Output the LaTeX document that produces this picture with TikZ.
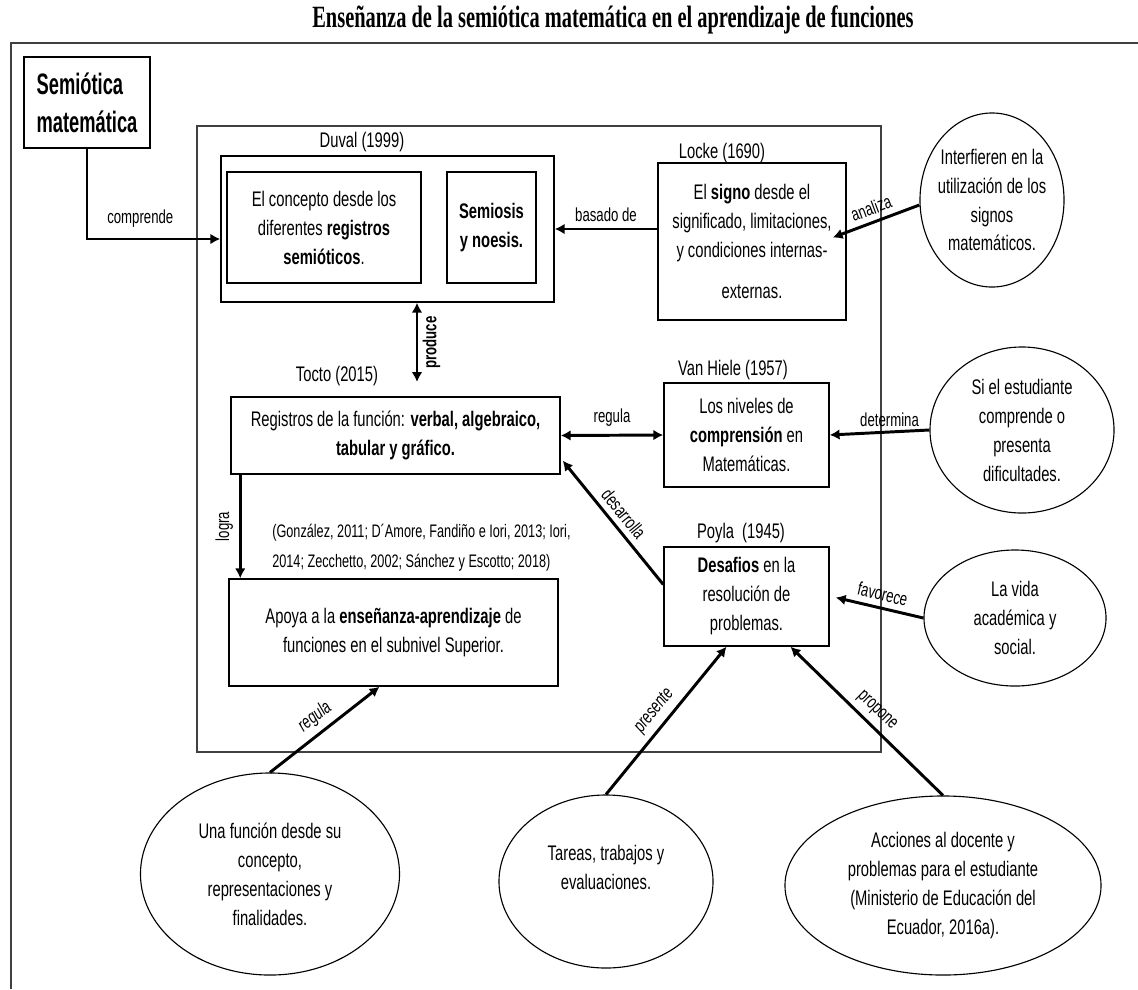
\documentclass[tikz,border=0pt]{standalone}
\usepackage{fontspec}
\setmainfont{Liberation Sans}[FakeStretch=0.7]
\newfontfamily\titlefont{Liberation Serif}[FakeStretch=0.66]
\newfontfamily\headfont{Liberation Sans}[FakeStretch=0.62]
\usetikzlibrary{arrows.meta,shapes.geometric,calc}
\definecolor{framegray}{HTML}{404040}
\tikzset{
  box/.style={draw, line width=1pt, align=center, inner sep=0pt, font=\fontsize{15}{20.6}\selectfont},
  oval/.style={draw, ellipse, line width=0.8pt, inner sep=0pt},
  txt/.style={align=center, inner sep=0pt, font=\fontsize{15}{20.6}\selectfont},
  lbl/.style={inner sep=1pt, font=\fontsize{13.4}{15}\selectfont},
  ilbl/.style={inner sep=1pt, font=\fontsize{13.4}{15}\selectfont\itshape},
  arr/.style={line width=2.1pt},
  >={Latex[length=7pt,width=7.5pt]}
}

\begin{document}
\begin{tikzpicture}[x=0.025cm, y=-0.025cm]
\useasboundingbox (0,0) rectangle (1138,989);
\node[font=\titlefont\bfseries\fontsize{22}{24}\selectfont] (title) at (613,20) {Enseñanza de la semiótica matemática en el aprendizaje de funciones};
\draw[framegray, line width=0.9pt] (10,43) -- (1138,43);
\draw[framegray, line width=0.9pt] (11,43) -- (11,989);
\draw[framegray, line width=0.8pt] (197,126) rectangle (881,752);

\node[box, minimum width=3.15cm, minimum height=2.275cm, align=left, font=\headfont\bfseries\fontsize{21}{27}\selectfont] (sem) at (87,102.5) {Semiótica\\matemática};

\node[box, minimum width=8.325cm, minimum height=3.65cm] (duval) at (387.5,229) {};
\node[box, minimum width=4.85cm, minimum height=2.775cm] (concept) at (324,227.5) {El concepto desde los\\diferentes \textbf{registros}\\\textbf{semióticos}.};
\node[box, minimum width=2.225cm, minimum height=2.775cm] (semiosis) at (491.5,227.5) {\textbf{Semiosis}\\\textbf{y noesis.}};
\node[txt] (duvallbl) at (362,142) {Duval (1999)};

\node[box, minimum width=4.7cm, minimum height=3.925cm] (locke) at (752,241.5) {El \textbf{signo} desde el\\significado, limitaciones,\\y condiciones internas-\\[0.3cm]externas.};
\node[txt] (lockelbl) at (722,153) {Locke (1690)};

\node[oval, minimum width=3.6cm, minimum height=4.35cm] (e1) at (992,200) {};
\node[txt] (t1) at (e1) {Interfieren en la\\utilización de los\\signos\\matemáticos.};

\node[box, minimum width=8.225cm, minimum height=1.925cm] (reg) at (395.5,435.5) {Registros de la función: \textbf{verbal, algebraico,}\\\textbf{tabular y gráfico.}};
\node[txt] (toctolbl) at (337,376) {Tocto (2015)};

\node[box, minimum width=4.125cm, minimum height=2.6cm] (vh) at (746.5,435) {Los niveles de\\\textbf{comprensión} en\\Matemáticas.};
\node[txt] (vhlbl) at (733,370) {Van Hiele (1957)};

\node[oval, minimum width=4.6cm, minimum height=4.15cm] (e2) at (1022,430) {};
\node[txt] (t2) at (e2) {Si el estudiante\\comprende o\\presenta\\dificultades.};

\node[box, minimum width=4.125cm, minimum height=2.475cm] (poyla) at (746.5,596.5) {\textbf{Desafios} en la\\resolución de\\problemas.};
\node[txt] (poylalbl) at (741,533) {Poyla\ \ (1945)};

\node[oval, minimum width=4.55cm, minimum height=3.4cm] (e3) at (1015,618) {};
\node[txt] (t3) at (e3) {La vida\\académica y\\social.};

\node[box, minimum width=8.225cm, minimum height=2.675cm] (apoya) at (393.5,632.5) {Apoya a la \textbf{enseñanza-aprendizaje} de\\funciones en el subnivel Superior.};
\node[anchor=west, align=left, inner sep=0pt, font=\fontsize{12.9}{21.3}\selectfont] (cite) at (272,548) {(González, 2011; D´Amore, Fandiño e Iori, 2013; Iori,\\2014; Zecchetto, 2002; Sánchez y Escotto; 2018)};

\node[oval, minimum width=6.475cm, minimum height=5.05cm] (e4) at (270,874) {};
\node[txt] (t4) at (e4) {Una función desde su\\concepto,\\representaciones y\\finalidades.};
\node[oval, minimum width=5.35cm, minimum height=4.325cm] (e5) at (606,881.5) {};
\node[txt] (t5) at ($(e5)+(0,-14)$) {Tareas, trabajos y\\evaluaciones.};
\node[oval, minimum width=7.9cm, minimum height=4.475cm] (e6) at (943,885.5) {};
\node[txt] (t6) at (e6) {Acciones al docente y\\problemas para el estudiante\\(Ministerio de Educación del\\Ecuador, 2016a).};

\coordinate (prodend) at (417,382);
\draw[arr,->] (sem.south) |- ($(duval.west)+(0,10)$) node[lbl, pos=0.7, above=6pt] {comprende};
\draw[arr,->] (locke.west |- duval.east) -- (duval.east) node[lbl, midway, above=3pt] {basado de};
\draw[arr,<-] ($(locke.east)+(-14,-4)$) -- ($(e1.west)+(0,5)$) node[lbl, midway, sloped, above=3pt] {analiza};
\draw[arr,<->] (prodend) -- (prodend |- duval.south) node[lbl, midway, sloped, below=2pt, font=\fontsize{13.4}{15}\selectfont\bfseries] {produce};
\draw[arr,<->] (reg.east) -- (vh.west) node[lbl, midway, above=4pt] {regula};
\draw[arr,<-] (vh.east) -- (e2.west) node[lbl, pos=0.6, above=2pt] {determina};
\draw[arr,<-] ($(poyla.east)+(6,1)$) -- (e3.west) node[lbl, midway, sloped, above=3pt] {favorece};
\draw[arr,<-] ($(reg.south east)+(2,-14)$) -- ($(poyla.west)+(0,-12)$) node[lbl, midway, sloped, above=3pt] {desarrolla};
\draw[arr,->] ($(reg.south west)+(10,0)$) -- ($(apoya.north west)+(12,0)$) node[lbl, midway, rotate=90, above=3pt] {logra};
\draw[arr,->] (e4.north) -- ($(apoya.south)+(-14,0)$) node[ilbl, midway, sloped, above=3pt] {regula};
\draw[arr,->] (e5.north) -- ($(poyla.south)+(-20,0)$) node[ilbl, midway, sloped, above=3pt] {presente};
\draw[arr,<-] ($(poyla.south)+(44,0)$) -- (e6.north) node[lbl, midway, sloped, above=3pt] {propone};
\end{tikzpicture}
\end{document}
